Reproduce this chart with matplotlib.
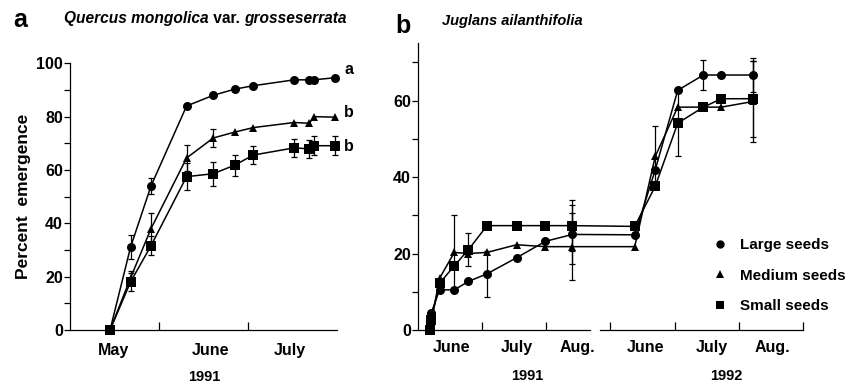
import numpy as np
import matplotlib.pyplot as plt
from matplotlib.lines import Line2D
from matplotlib.transforms import blended_transform_factory

plt.rcParams['font.family'] = ['Liberation Sans', 'DejaVu Sans']
plt.rcParams['font.weight'] = 'bold'
plt.rcParams['axes.labelweight'] = 'bold'

# === Panel a: Quercus mongolica (x = months since 1 May 1991) ===
a_x = [0.45, 0.68, 0.91, 1.31, 1.61, 1.85, 2.06, 2.52, 2.69, 2.74, 2.98]
a_large = [0, 31, 54, 84, 88, 90.3, 91.6, 93.8, 93.8, 93.8, 94.6]
a_large_se = [0, 4.5, 3, 0, 0, 0, 0, 0, 0, 0, 0]
a_medium = [0, 19.5, 38, 64.5, 72, 74.2, 75.9, 77.8, 77.5, 80, 79.8]
a_medium_se = [0, 2.5, 6, 5, 3.5, 0, 0, 0, 0, 0, 0]
a_small = [0, 18, 31.6, 57.5, 58.6, 61.8, 65.6, 68.3, 67.9, 69.1, 69.1]
a_small_se = [0, 3.5, 3.5, 5, 4.5, 4, 3.5, 3.5, 3.5, 3.5, 3.5]
a_months = ['May', 'June', 'July']
a_month_pos = [0.49, 1.58, 2.47]
a_sig = ['a', 'b', 'b']
a_sig_y = [97.5, 81.4, 68.7]

# === Panel b: Juglans ailanthifolia (x = months since 1 June 1991, 1992 shifted to 3) ===
b_x = [0.19, 0.21, 0.34, 0.57, 0.79, 1.08, 1.54, 1.99, 2.41,
       3.38, 3.70, 4.05, 4.45, 4.73, 5.23]
b_large = [0, 4.4, 10.5, 10.5, 12.7, 14.7, 18.9, 23.2, 25,
           24.9, 41.9, 62.7, 66.7, 66.7, 66.7]
b_large_se = [0, 0, 0, 0, 0, 6, 0, 0, 7.7,
              0, 0, 0, 4, 0, 4.5]
b_medium = [0, 2, 13.5, 20.3, 20, 20.3, 22.3, 21.8, 21.8,
            21.8, 45.4, 58.3, 58.3, 58.3, 59.8]
b_medium_se = [0, 0, 0, 9.7, 0, 0, 0, 0, 8.7,
               0, 8, 0, 0, 0, 10.5]
b_small = [0, 2.6, 12.2, 16.8, 21, 27.3, 27.3, 27.3, 27.3,
           27.1, 37.6, 54.1, 58.3, 60.5, 60.5]
b_small_se = [0, 0, 0, 0, 4.3, 0, 0, 0, 6.7,
              0, 0, 8.7, 0, 0, 10]
b_months = ['June', 'July', 'Aug.', 'June', 'July', 'Aug.']
b_month_pos = [0.53, 1.54, 2.49, 3.55, 4.58, 5.52]
b_years = ['1991', '1992']
b_year_pos = [1.70, 4.81]

series_names = ['Large seeds', 'Medium seeds', 'Small seeds']
markers = ['o', '^', 's']


def draw_series(ax, x, ys, errs):
    for y, e, m in zip(ys, errs, markers):
        x_arr, y_arr, e_arr = np.array(x), np.array(y), np.array(e)
        keep = e_arr > 0
        ax.errorbar(x_arr[keep], y_arr[keep], yerr=e_arr[keep], fmt='none',
                    ecolor='black', elinewidth=0.9, capsize=2.5, capthick=0.9,
                    zorder=2, clip_on=False)
        ax.plot(x_arr, y_arr, color='black', lw=1.1, marker=m,
                markersize=6.5 if m != '^' else 6, markeredgewidth=0,
                zorder=3, clip_on=False)


def style_axis(ax, ymax, ymajor):
    for side in ['top', 'right']:
        ax.spines[side].set_visible(False)
    ax.spines['left'].set_linewidth(0.9)
    ax.spines['bottom'].set_linewidth(0.9)
    ax.set_ylim(0, ymax)
    ax.set_yticks(ymajor)
    ax.set_yticks(np.arange(10, ymax + 1, 20), minor=True)
    ax.tick_params(axis='y', which='both', direction='out', length=4,
                   width=0.9, labelsize=11.5, pad=1)
    ax.tick_params(axis='x', which='both', direction='in', length=6,
                   width=0.9, labelbottom=False)
    for lab in ax.get_yticklabels():
        lab.set_fontweight('bold')


fig = plt.figure(figsize=(8.61, 3.85), dpi=100)

# --- panel a ---
ax1 = fig.add_axes([70 / 861, 1 - 330 / 385, 267 / 861, 266.7 / 385])
style_axis(ax1, 100, [0, 20, 40, 60, 80, 100])
ax1.set_xlim(0, 3)
ax1.set_xticks([1, 2])
draw_series(ax1, a_x, [a_large, a_medium, a_small],
            [a_large_se, a_medium_se, a_small_se])
tr1 = blended_transform_factory(ax1.transData, ax1.transAxes)
for lab, pos in zip(a_months, a_month_pos):
    ax1.text(pos, -0.075, lab, transform=tr1, ha='center', va='center', fontsize=11.5)
ax1.text(1.51, -0.178, '1991', transform=tr1, ha='center', va='center', fontsize=10.5)
for lab, yv in zip(a_sig, a_sig_y):
    ax1.text(3.13, yv, lab, ha='center', va='center', fontsize=11.5, clip_on=False)
ax1.set_ylabel('Percent  emergence', fontsize=12.5, labelpad=4)

# --- panel b ---
ax2 = fig.add_axes([417.7 / 861, 1 - 330 / 385, 385.2 / 861, 286.7 / 385])
style_axis(ax2, 75, [0, 20, 40, 60])
ax2.set_xlim(0, 6)
ax2.set_xticks([1, 2, 3, 4, 5, 6])
ax2.spines['bottom'].set_visible(False)
ax2.plot([0, 2.68], [0, 0], color='black', lw=0.9, clip_on=False, zorder=1)
ax2.plot([2.84, 6], [0, 0], color='black', lw=0.9, clip_on=False, zorder=1)
draw_series(ax2, b_x, [b_large, b_medium, b_small],
            [b_large_se, b_medium_se, b_small_se])
tr2 = blended_transform_factory(ax2.transData, ax2.transAxes)
for lab, pos in zip(b_months, b_month_pos):
    ax2.text(pos, -0.06, lab, transform=tr2, ha='center', va='center', fontsize=11.5)
for lab, pos in zip(b_years, b_year_pos):
    ax2.text(pos, -0.16, lab, transform=tr2, ha='center', va='center', fontsize=10.5)

handles = [Line2D([], [], color='black', marker=m, ls='none', markersize=6,
                  markeredgewidth=0) for m in markers]
ax2.legend(handles, series_names, loc='upper left', bbox_to_anchor=(0.75, 0.348),
           frameon=False, fontsize=11, handlelength=0.8, handletextpad=0.9,
           labelspacing=1.1, borderpad=0)

# --- panel letters and titles ---
fig.text(13 / 861, 1 - 27 / 385, 'a', fontsize=18, va='baseline')
t1 = fig.text(64 / 861, 1 - 23 / 385, 'Quercus mongolica', fontsize=11.2,
              style='italic', va='baseline')
fig.text(395 / 861, 1 - 33 / 385, 'b', fontsize=18, va='baseline')
fig.text(441.7 / 861, 1 - 25 / 385, 'Juglans ailanthifolia', fontsize=10.5,
         style='italic', va='baseline')
# chain "var." and the epithet after the species name
v = plt.annotate(' var. ', xy=(1, 0), xycoords=t1, va='bottom', ha='left',
                 fontsize=11.2, annotation_clip=False)
plt.annotate('grosseserrata', xy=(1, 0), xycoords=v, va='bottom', ha='left',
             fontsize=11.2, style='italic', annotation_clip=False)

fig.savefig('out.png', dpi=100)
